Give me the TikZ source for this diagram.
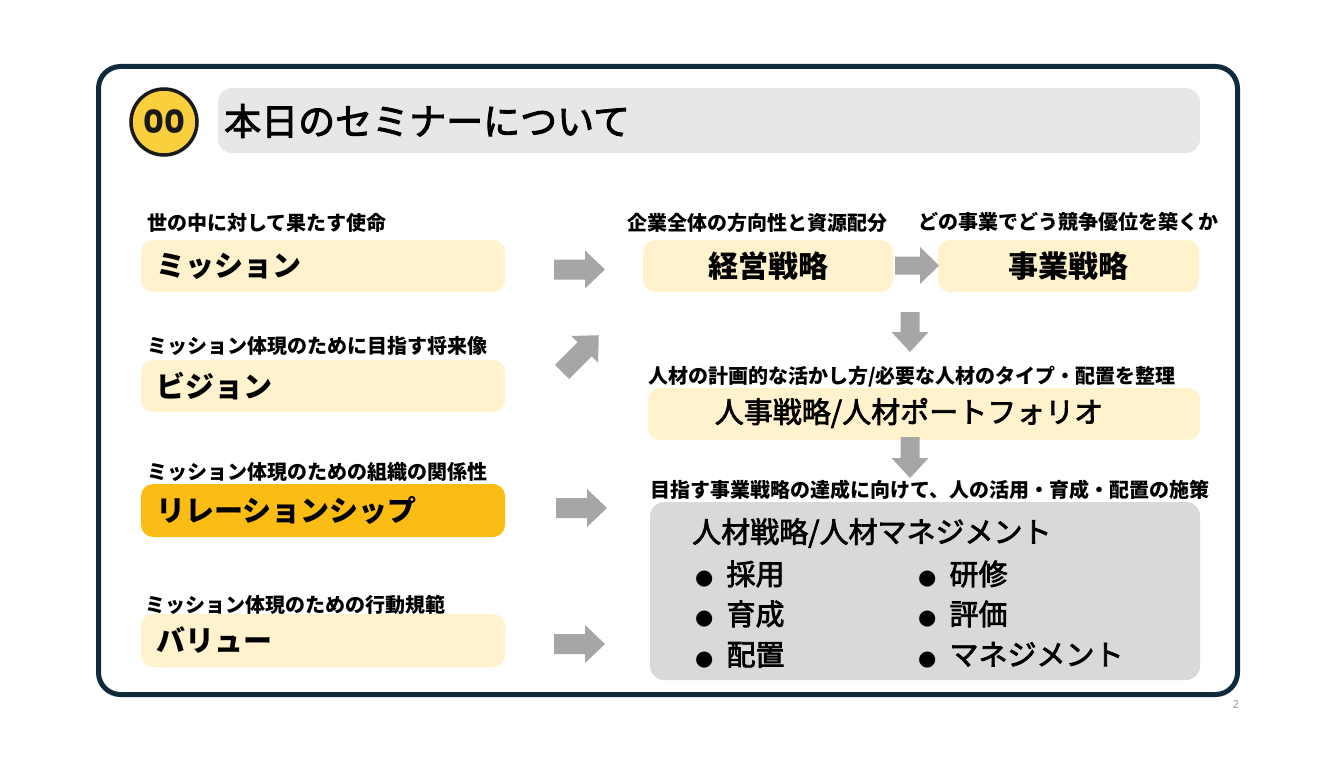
\documentclass[tikz,border=0pt]{standalone}
\usepackage{fontspec}
\setmainfont{Noto Sans CJK JP}
\newfontfamily\med{Noto Sans CJK JP}[UprightFeatures={FakeBold=2.5}]
\newfontfamily\dv{DejaVu Sans}
\newfontfamily\pop{Poppins}
\definecolor{navy}{HTML}{0E2A3B}
\definecolor{lightyel}{HTML}{FFF2CC}
\definecolor{orangey}{HTML}{FBBC14}
\definecolor{greybox}{HTML}{D9D9D9}
\definecolor{titlegrey}{HTML}{E7E7E7}
\definecolor{arrowgrey}{HTML}{A6A6A6}
\definecolor{circyel}{HTML}{F9CF3E}
\tikzset{
  x=1pt, y=-1pt,
  ybox/.style={fill=lightyel, rounded corners=12pt, inner sep=0pt, minimum height=52pt},
  lbox/.style={ybox, text width=334pt, inner xsep=15pt, align=left, font=\fontsize{29}{32}\selectfont\bfseries},
  cbox/.style={ybox, align=center, font=\fontsize{30}{33}\selectfont\bfseries},
  lab/.style={inner sep=0pt, font=\fontsize{20}{22}\selectfont\bfseries},
  itm/.style={inner sep=0pt, anchor=west, font=\med\fontsize{29}{32}\selectfont},
  pics/barrow/.style n args={4}{code={
    \fill[arrowgrey] (0,-#2/2) -- (#1-#4,-#2/2) -- (#1-#4,-#3/2) -- (#1,0)
      -- (#1-#4,#3/2) -- (#1-#4,#2/2) -- (0,#2/2) -- cycle;}}
}
\newcommand{\bul}{{\dv\fontsize{21}{24}\selectfont ●}\hspace{13pt}}
\begin{document}
\begin{tikzpicture}
\useasboundingbox (0,0) rectangle (1332,765);
% frame
\draw[navy, line width=5pt, rounded corners=22pt] (98.5,66.5) rectangle (1237.5,694.5);
% title bar
\node[fill=titlegrey, rounded corners=14pt, minimum width=982pt, minimum height=65pt, inner sep=0pt] (tbar) at (709,120.5) {};
\node[inner sep=0pt, anchor=west, font=\med\fontsize{37}{40}\selectfont] (title) at (224,121) {本日のセミナーについて};
\node[circle, fill=circyel, draw=black!90, line width=3.5pt, minimum size=66pt, inner sep=0pt,
      font=\pop\bfseries\fontsize{32}{34}\selectfont, text=black!90] (num) at (164,122) {00};
% left column
\node[lab, anchor=west] (l1) at (147,223) {世の中に対して果たす使命};
\node[lbox, minimum width=364pt] (mission) at (323,266) {ミッション};
\node[lab, anchor=west] (l2) at (147,346) {ミッション体現のために目指す将来像};
\node[lbox] (vision) at (323,386) {ビジョン};
\node[lab, anchor=west] (l3) at (147,472) {ミッション体現のための組織の関係性};
\node[lbox, fill=orangey, minimum height=53pt] (rel) at (323,510.5) {リレーションシップ};
\node[lab, anchor=west] (l4) at (145,605) {ミッション体現のための行動規範};
\node[lbox, minimum height=53pt] (value) at (323,640.5) {バリュー};
% right column
\node[lab] (l5) at (757,223) {企業全体の方向性と資源配分};
\node[cbox, minimum width=250pt] (keiei) at (768,266) {経営戦略};
\node[lab] (l6) at (1068,222) {どの事業でどう競争優位を築くか};
\node[cbox, minimum width=261pt] (jigyo) at (1068.5,266) {事業戦略};
\node[lab, anchor=west] (l7) at (648,377) {人材の計画的な活かし方/必要な人材のタイプ・配置を整理};
\node[ybox, minimum width=552pt] (jinji) at (924,414) {};
\node[inner sep=0pt, font=\med\fontsize{29}{32}\selectfont] (jinjit) at (909,413) {人事戦略/人材ポートフォリオ};
\node[lab, anchor=west] (l8) at (650,490) {目指す事業戦略の達成に向けて、人の活用・育成・配置の施策};
\node[fill=greybox, rounded corners=14pt, minimum width=550pt, minimum height=178pt, inner sep=0pt] (mgmt) at (925,591) {};
\node[itm] (mt) at (692,533) {人材戦略/人材マネジメント};
\node[itm] (b1) at (695,574) {\bul 採用};
\node[itm] (b2) at (695,614) {\bul 育成};
\node[itm] (b3) at (695,655) {\bul 配置};
\node[itm] (b4) at (918,574) {\bul 研修};
\node[itm] (b5) at (918,614) {\bul 評価};
\node[itm] (b6) at (918,655) {\bul マネジメント};
% arrows
\pic (a1) at (554,269.5) {barrow={51}{20}{38}{20}};
\pic[rotate=45] (a2) at (562,372) {barrow={52}{20}{38}{20}};
\pic (a3) at (556,508) {barrow={51}{20}{38}{20}};
\pic (a4) at (554,644) {barrow={51}{20}{38}{20}};
\pic (a5) at (895,265.5) {barrow={44}{18}{37}{19}};
\pic[rotate=-90] (a6) at (910,312) {barrow={40}{19}{37}{20}};
\pic[rotate=-90] (a7) at (910,437) {barrow={41}{19}{37}{20}};
% page number
\node[text=black!40, font=\fontsize{11}{12}\selectfont, inner sep=0pt] (pg) at (1236,704) {2};
\end{tikzpicture}
\end{document}
